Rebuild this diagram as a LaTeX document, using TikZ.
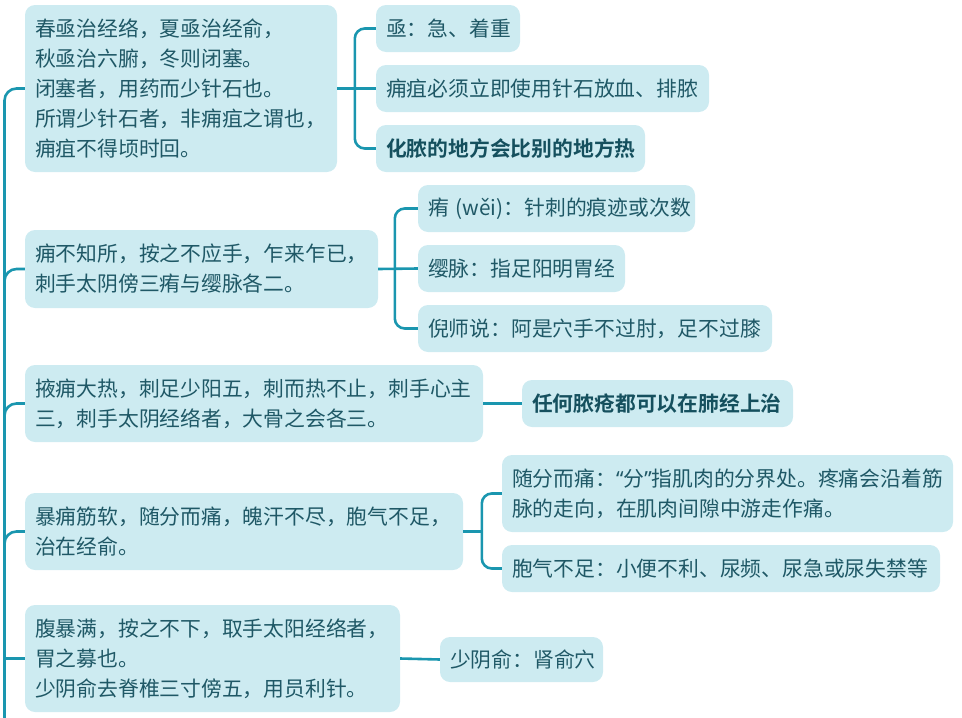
\documentclass[tikz,border=0pt]{standalone}
\usepackage{fontspec}
\setmainfont{Noto Sans CJK SC}[BoldFont={Noto Sans CJK SC Bold}]
\newfontfamily\latinq{Noto Sans}
\definecolor{boxfill}{HTML}{CDEBF1}
\definecolor{txtc}{HTML}{1F5866}
\definecolor{boldc}{HTML}{15505E}
\definecolor{linec}{HTML}{1A96AF}
\tikzset{
  box/.style={fill=boxfill, rounded corners=10pt, text=txtc, align=left,
    inner xsep=10pt, inner ysep=0pt, font=\fontsize{20.8}{30}\selectfont},
  boldbox/.style={box, text=boldc, font=\fontsize{20.8}{30}\selectfont\bfseries},
  conn/.style={draw=linec, line width=2.6pt},
}
\begin{document}
\begin{tikzpicture}[x=1pt,y=-1pt]
\useasboundingbox (0,0) rectangle (962,718);
% boxes
\node[box, text width=292pt, minimum height=167pt] (n1) at (181,88.5) {\mbox{春亟治经络，夏亟治经俞，}\\\mbox{秋亟治六腑，冬则闭塞。}\\\mbox{闭塞者，用药而少针石也。}\\\mbox{所谓少针石者，非痈疽之谓也，}\\\mbox{痈疽不得顷时回。}};
\node[box, text width=124pt, minimum height=47pt] (c1a) at (448,28.5) {\mbox{亟：急、着重}};
\node[box, text width=313pt, minimum height=47pt] (c1b) at (542.5,88.5) {\mbox{痈疽必须立即使用针石放血、排脓}};
\node[boldbox, text width=249pt, minimum height=47pt] (c1c) at (510.5,148.5) {\mbox{化脓的地方会比别的地方热}};
\node[box, text width=333pt, minimum height=78pt] (n2) at (201.5,269) {\mbox{痈不知所，按之不应手，乍来乍已，}\\\mbox{刺手太阴傍三痏与缨脉各二。}};
\node[box, text width=257pt, minimum height=47pt] (c2a) at (556.5,208.5) {\mbox{痏 (wěi)：针刺的痕迹或次数}};
\node[box, text width=187pt, minimum height=47pt] (c2b) at (521.5,268.5) {\mbox{缨脉：指足阳明胃经}};
\node[box, text width=334pt, minimum height=47pt] (c2c) at (595,328.5) {\mbox{倪师说：阿是穴手不过肘，足不过膝}};
\node[box, text width=438pt, minimum height=77pt] (n3) at (254,403.5) {\mbox{掖痈大热，刺足少阳五，刺而热不止，刺手心主}\\\mbox{三，刺手太阴经络者，大骨之会各三。}};
\node[boldbox, text width=251pt, minimum height=47pt] (c3) at (657.5,403.5) {\mbox{任何脓疮都可以在肺经上治}};
\node[box, text width=418pt, minimum height=77pt] (n4) at (244,531.5) {\mbox{暴痈筋软，随分而痛，魄汗不尽，胞气不足，}\\\mbox{治在经俞。}};
\node[box, text width=431pt, minimum height=77pt] (c4a) at (727.5,493.5) {\mbox{随分而痛：{\latinq “}分{\latinq ”}指肌肉的分界处。疼痛会沿着筋}\\\mbox{脉的走向，在肌肉间隙中游走作痛。}};
\node[box, text width=418pt, minimum height=47pt] (c4b) at (721,568.5) {\mbox{胞气不足：小便不利、尿频、尿急或尿失禁等}};
\node[box, text width=355pt, minimum height=107pt] (n5) at (212.5,658.5) {\mbox{腹暴满，按之不下，取手太阳经络者，}\\\mbox{胃之募也。}\\\mbox{少阴俞去脊椎三寸傍五，用员利针。}};
\node[box, text width=143pt, minimum height=45pt] (c5) at (521.5,659.5) {\mbox{少阴俞：肾俞穴}};
% trunk
\coordinate (tb) at (4.5,722);
\draw[conn, rounded corners=12pt] (tb) |- (n1.west);
\draw[conn, rounded corners=12pt] (tb) |- (n2.west);
\draw[conn, rounded corners=12pt] (tb) |- (n3.west);
\draw[conn, rounded corners=12pt] (tb) |- (n4.west);
\draw[conn] (tb |- n5.west) -- (n5.west);
% children
\draw[conn, rounded corners=10pt] (c1a.west) -- ++(-21,0) |- (c1c.west);
\draw[conn] (n1.east) -- (c1b.west);
\draw[conn, rounded corners=10pt] (c2a.west) -- ++(-23,0) |- (c2c.west);
\draw[conn] (n2.east) -- (c2b.west);
\draw[conn] (n3.east) -- (c3.west);
\draw[conn, rounded corners=10pt] (c4a.west) -- ++(-20,0) |- (c4b.west);
\coordinate (v4) at (482,531.5);
\draw[conn] (n4.east) -- (v4);
\draw[conn] (n5.east) -- (c5.west);
\end{tikzpicture}
\end{document}
